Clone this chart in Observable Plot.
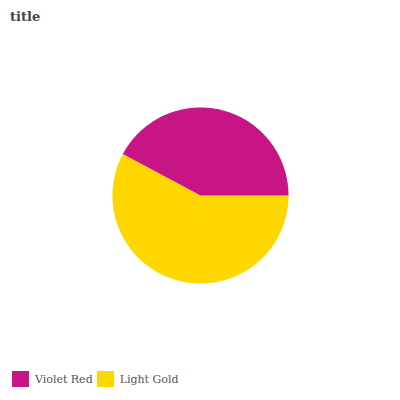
<!DOCTYPE html>
<html>
<head>
<meta charset="utf-8">
<script src="https://cdn.jsdelivr.net/npm/d3@7"></script>
<script src="https://cdn.jsdelivr.net/npm/@observablehq/plot@0.6"></script>
<style>
  body { margin: 0; background: #fff; }
  #wrap { position: relative; width: 400px; height: 400px; overflow: hidden; }
  #title { position: absolute; left: 10px; top: 9px; font-family: "DejaVu Serif", serif; font-weight: bold; font-size: 13px; color: #444; }
  #legend { position: absolute; left: 12px; top: 371px; display: flex; align-items: center; font-family: "DejaVu Serif", serif; font-size: 11px; color: #555; }
  .item { display: flex; align-items: center; margin-right: 4px; }
  .sw { width: 17px; height: 16px; margin-right: 6px; }
  #chart { position: absolute; left: 0; top: 0; }
</style>
</head>
<body>
<div id="wrap">
  <div id="chart"></div>
  <div id="title">title</div>
  <div id="legend"></div>
</div>
<script>
const categories = ["Light Gold", "Violet Red"];
const values = [57.8, 42.2];
const colors = ["#FFD700", "#C71585"];
const legendOrder = ["Violet Red", "Light Gold"];

const data = categories.map((c, i) => ({category: c, value: values[i]}));
const arcs = d3.pie().sort(null).value(d => d.value)
  .startAngle(Math.PI / 2).endAngle(Math.PI / 2 + 2 * Math.PI)(data);

const pts = [];
for (const a of arcs) {
  const n = 200;
  pts.push({category: a.data.category, x: 0, y: 0});
  for (let k = 0; k <= n; k++) {
    const t = a.startAngle + (a.endAngle - a.startAngle) * k / n;
    pts.push({category: a.data.category, x: Math.sin(t), y: Math.cos(t)});
  }
  pts.push({category: a.data.category, x: 0, y: 0});
}

const plot = Plot.plot({
  width: 400, height: 400,
  marginLeft: 112, marginRight: 112, marginTop: 107, marginBottom: 117,
  x: {domain: [-1, 1], axis: null},
  y: {domain: [-1, 1], axis: null},
  color: {domain: categories, range: colors},
  marks: [
    Plot.line(pts, {x: "x", y: "y", z: "category", fill: "category", stroke: "none", curve: "linear"})
  ]
});
document.getElementById("chart").appendChild(plot);

const leg = document.getElementById("legend");
for (const name of legendOrder) {
  const it = document.createElement("div");
  it.className = "item";
  const sw = document.createElement("div");
  sw.className = "sw";
  sw.style.background = colors[categories.indexOf(name)];
  const tx = document.createElement("span");
  tx.textContent = name;
  it.appendChild(sw); it.appendChild(tx);
  leg.appendChild(it);
}
</script>
</body>
</html>
